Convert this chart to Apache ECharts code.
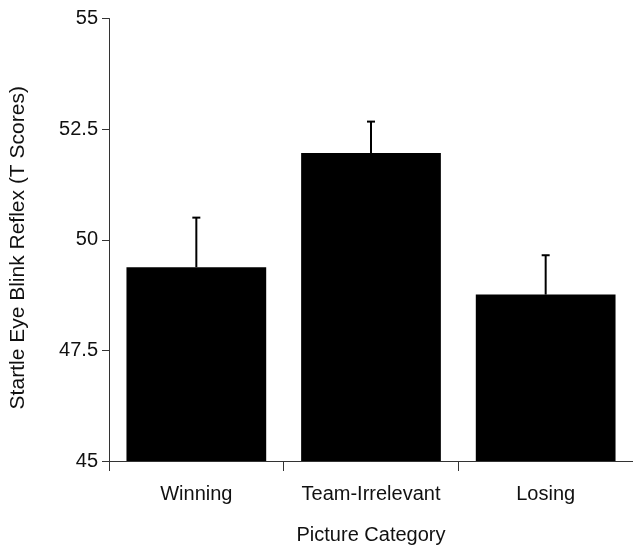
<!DOCTYPE html>
<html>
<head>
<meta charset="utf-8">
<script src="https://cdn.jsdelivr.net/npm/echarts@6/dist/echarts.min.js"></script>
<style>
  html, body { margin: 0; padding: 0; background: #fff; }
  #chart { width: 633px; height: 550px; }
</style>
</head>
<body>
<div id="chart"></div>
<script>
// Mean startle eye blink reflex (T scores) per picture category, with standard error
const categories = ['Winning', 'Team-Irrelevant', 'Losing'];
const means = [49.38, 51.96, 48.76];
const stdErrors = [1.12, 0.71, 0.89];
const yTicks = [45, 47.5, 50, 52.5, 55];

const FONT = '"Liberation Sans", Arial, sans-serif';
const INK = '#111';

const chart = echarts.init(document.getElementById('chart'), null, { renderer: 'canvas' });

const errorData = means.map((m, i) => [i, m, m + stdErrors[i]]);

chart.setOption({
  animation: false,
  backgroundColor: '#fff',
  grid: { left: 108, top: 18.5, width: 537, height: 449.5, containLabel: false },
  xAxis: {
    type: 'category',
    data: categories,
    name: 'Picture Category',
    nameLocation: 'middle',
    nameGap: 64,
    nameTextStyle: { fontFamily: FONT, fontSize: 20, color: INK },
    axisLine: { lineStyle: { color: '#333', width: 1 } },
    axisTick: { show: true, interval: 0, length: 10, alignWithLabel: false, lineStyle: { color: '#333' } },
    axisLabel: { interval: 0, fontFamily: FONT, fontSize: 20, color: INK, margin: 23 },
    splitLine: { show: false }
  },
  yAxis: {
    type: 'value',
    min: yTicks[0],
    max: yTicks[yTicks.length - 1],
    interval: yTicks[1] - yTicks[0],
    name: 'Startle Eye Blink Reflex (T Scores)',
    nameLocation: 'middle',
    nameGap: 80,
    nameTextStyle: { fontFamily: FONT, fontSize: 21, color: INK, padding: [0, 16, 0, 0] },
    axisLine: { show: true, lineStyle: { color: '#333', width: 1 } },
    axisTick: { show: true, length: 7, lineStyle: { color: '#333' } },
    axisLabel: { fontFamily: FONT, fontSize: 20, color: INK, margin: 11 },
    splitLine: { show: false }
  },
  series: [
    {
      type: 'bar',
      data: means,
      barWidth: '80%',
      itemStyle: { color: '#000' },
      z: 2
    },
    {
      type: 'custom',
      data: errorData,
      z: 3,
      renderItem: function (params, api) {
        const x = api.value(0);
        const base = api.coord([x, api.value(1)]);
        const top = api.coord([x, api.value(2)]);
        const capHalf = 4;
        const style = { stroke: '#000', lineWidth: 2 };
        return {
          type: 'group',
          children: [
            { type: 'line', shape: { x1: base[0], y1: base[1], x2: top[0], y2: top[1] }, style: style },
            { type: 'line', shape: { x1: top[0] - capHalf, y1: top[1], x2: top[0] + capHalf, y2: top[1] }, style: style }
          ]
        };
      }
    }
  ]
});
</script>
</body>
</html>
